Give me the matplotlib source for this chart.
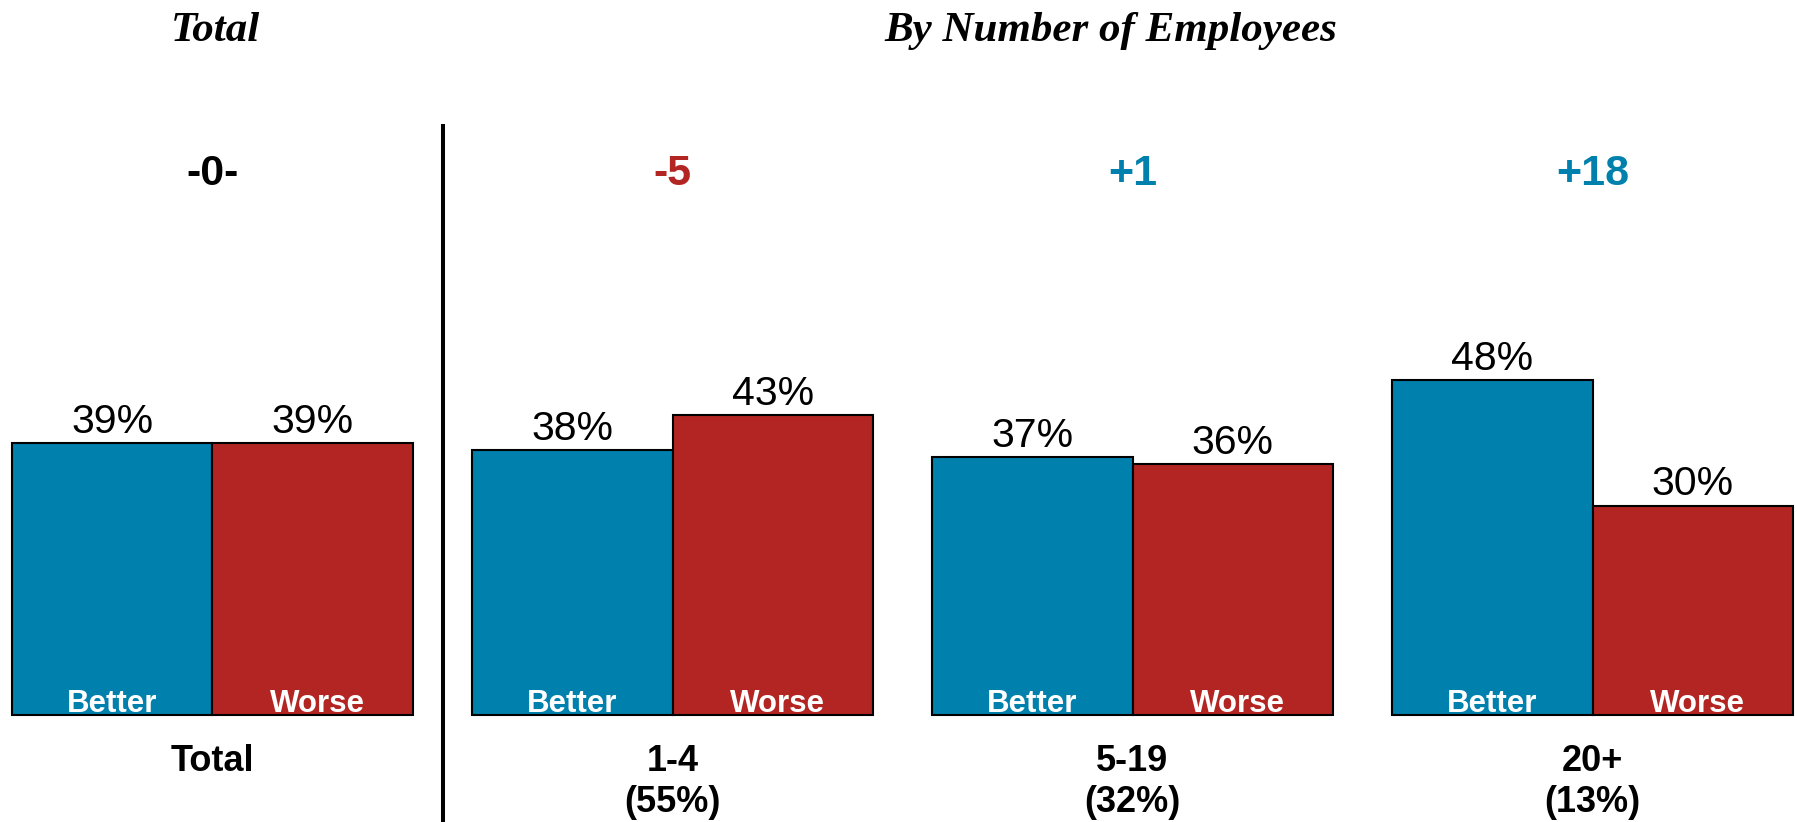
import matplotlib
matplotlib.use("Agg")
import matplotlib.pyplot as plt

categories = ["Total", "1-4", "5-19", "20+"]
shares = ["", "(55%)", "(32%)", "(13%)"]
better = [39, 38, 37, 48]
worse = [39, 43, 36, 30]
deltas = ["-0-", "-5", "+1", "+18"]
delta_colors = ["black", "#B22522", "#0080AC", "#0080AC"]

BLUE = "#0080AC"
RED = "#B22522"

W, H = 1797, 822
fig = plt.figure(figsize=(W / 100, H / 100), dpi=100)
ax = fig.add_axes([0, 0, 1, 1])
ax.set_axis_off()

px_per_unit_x = 460.0
x0_px = 212.5
base_px = 715.0
ppu = 6.98
ax.set_xlim(-x0_px / px_per_unit_x, (W - x0_px) / px_per_unit_x)
ax.set_ylim(-(H - base_px) / ppu, base_px / ppu)

sans = ["Liberation Sans", "DejaVu Sans"]
serif = ["Liberation Serif", "DejaVu Serif"]

bw = 0.436
xs = list(range(len(categories)))
xb = [x - bw / 2 for x in xs]
xw = [x + bw / 2 for x in xs]
ax.bar(xb, better, width=bw, color=BLUE, edgecolor="black", linewidth=1.5)
ax.bar(xw, worse, width=bw, color=RED, edgecolor="black", linewidth=1.5)

for i in xs:
    ax.text(xb[i], better[i] + 1.45, f"{better[i]}%", ha="center", va="baseline",
            fontsize=29.5, family=sans)
    ax.text(xw[i], worse[i] + 1.45, f"{worse[i]}%", ha="center", va="baseline",
            fontsize=29.5, family=sans)
    ax.text(xb[i], 0.5, "Better", ha="center", va="baseline", fontsize=22.5,
            fontweight="bold", color="white", family=sans)
    ax.text(xw[i] + 0.01, 0.5, "Worse", ha="center", va="baseline", fontsize=22.5,
            fontweight="bold", color="white", family=sans)
    ax.text(i, -8.0, categories[i], ha="center", va="baseline", fontsize=26,
            fontweight="bold", family=sans)
    if shares[i]:
        ax.text(i, -13.9, shares[i], ha="center", va="baseline", fontsize=26,
                fontweight="bold", family=sans)
    ax.text(i, 75.9, deltas[i], ha="center", va="baseline", fontsize=31,
            fontweight="bold", color=delta_colors[i], family=sans)

# divider
ax.plot([0.501, 0.501], [(base_px - 124) / ppu, -(H - base_px) / ppu],
        color="black", linewidth=2.9, solid_capstyle="butt")

# section titles
fig.text(216 / W, 1 - 41 / H, "Total", ha="center", va="baseline", fontsize=31,
         fontweight="bold", fontstyle="italic", family=serif)
fig.text(1111 / W, 1 - 41 / H, "By Number of Employees", ha="center", va="baseline",
         fontsize=31, fontweight="bold", fontstyle="italic", family=serif)

fig.savefig("out.png", dpi=100)
